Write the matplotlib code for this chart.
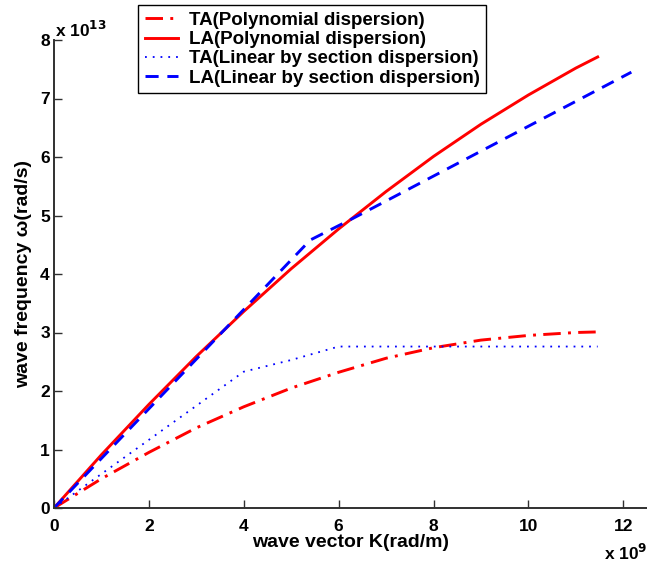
import numpy as np
from matplotlib import pyplot as plt

plt.rcParams['font.family'] = ['Liberation Sans', 'DejaVu Sans']
plt.rcParams['font.weight'] = 'bold'

# wave vector in units of 1e9 rad/m, frequency in units of 1e13 rad/s
k_poly = [0, 1, 2, 3, 4, 5, 6, 7, 8, 9, 10, 11, 11.46]
ta_poly = [0, 0.50, 0.95, 1.37, 1.73, 2.05, 2.32, 2.56, 2.74, 2.87, 2.95, 3.0, 3.01]
la_poly = [0, 0.91, 1.77, 2.59, 3.36, 4.09, 4.77, 5.41, 6.01, 6.56, 7.06, 7.52, 7.71]

k_ta_lin = [0, 4, 5, 6, 11.46]
ta_lin = [0, 2.33, 2.53, 2.76, 2.76]

k_la_lin = [0, 5.4, 6.3, 12.17]
la_lin = [0, 4.58, 4.95, 7.45]

labels = ["TA(Polynomial dispersion)", "LA(Polynomial dispersion)",
          "TA(Linear by section dispersion)", "LA(Linear by section dispersion)"]

fig = plt.figure(figsize=(6.47, 5.64), dpi=100)
ax = fig.add_axes([54/647, 1 - 508/564, (647 - 54)/647, (508 - 40)/564])

ax.plot(k_poly, ta_poly, color="red", linestyle=(0, (6, 2.5, 1, 2.5)), linewidth=2.1, label=labels[0])
ax.plot(k_poly, la_poly, color="red", linestyle="-", linewidth=2.1, label=labels[1])
ax.plot(k_ta_lin, ta_lin, color="blue", linestyle=(0, (1, 3.3)), linewidth=1.3, label=labels[2])
ax.plot(k_la_lin, la_lin, color="blue", linestyle=(0, (4.5, 3)), linewidth=2.1, label=labels[3])

ax.set_xlim(0, 12.5)
ax.set_ylim(0, 8)
ax.set_xticks(range(0, 13, 2))
ax.set_yticks(range(0, 9))

for side in ["top", "right"]:
    ax.spines[side].set_visible(False)
for side in ["left", "bottom"]:
    ax.spines[side].set_linewidth(1.4)
    ax.spines[side].set_color("#303030")
ax.tick_params(direction="in", length=6, width=1, labelsize=12.5, color="#303030")
ax.tick_params(axis="x", pad=8)
ax.tick_params(axis="y", pad=3)

ax.set_xlabel("wave vector K(rad/m)", fontsize=14, fontweight="bold", labelpad=0)
ax.set_ylabel("wave frequency \u03c9(rad/s)", fontsize=14, fontweight="bold", labelpad=6)

fig.text(55/647, 1 - 30/564, r"x 10$^{\mathbf{13}}$", fontsize=12.5, fontweight="bold", va="center", ha="left")
fig.text(604/647, 1 - 553/564, r"x 10$^{\mathbf{9}}$", fontsize=12.5, fontweight="bold", va="center", ha="left")

leg = ax.legend(loc="upper left", bbox_to_anchor=(138/647, 1 - 5/564), bbox_transform=fig.transFigure,
                borderaxespad=0, fancybox=False, framealpha=1, edgecolor="black",
                prop={"size": 13.5, "weight": "bold"}, handlelength=1.8, handletextpad=0.55,
                labelspacing=0.12, borderpad=0.35)
leg.get_frame().set_linewidth(1.0)

plt.savefig("out.png", dpi=100)
